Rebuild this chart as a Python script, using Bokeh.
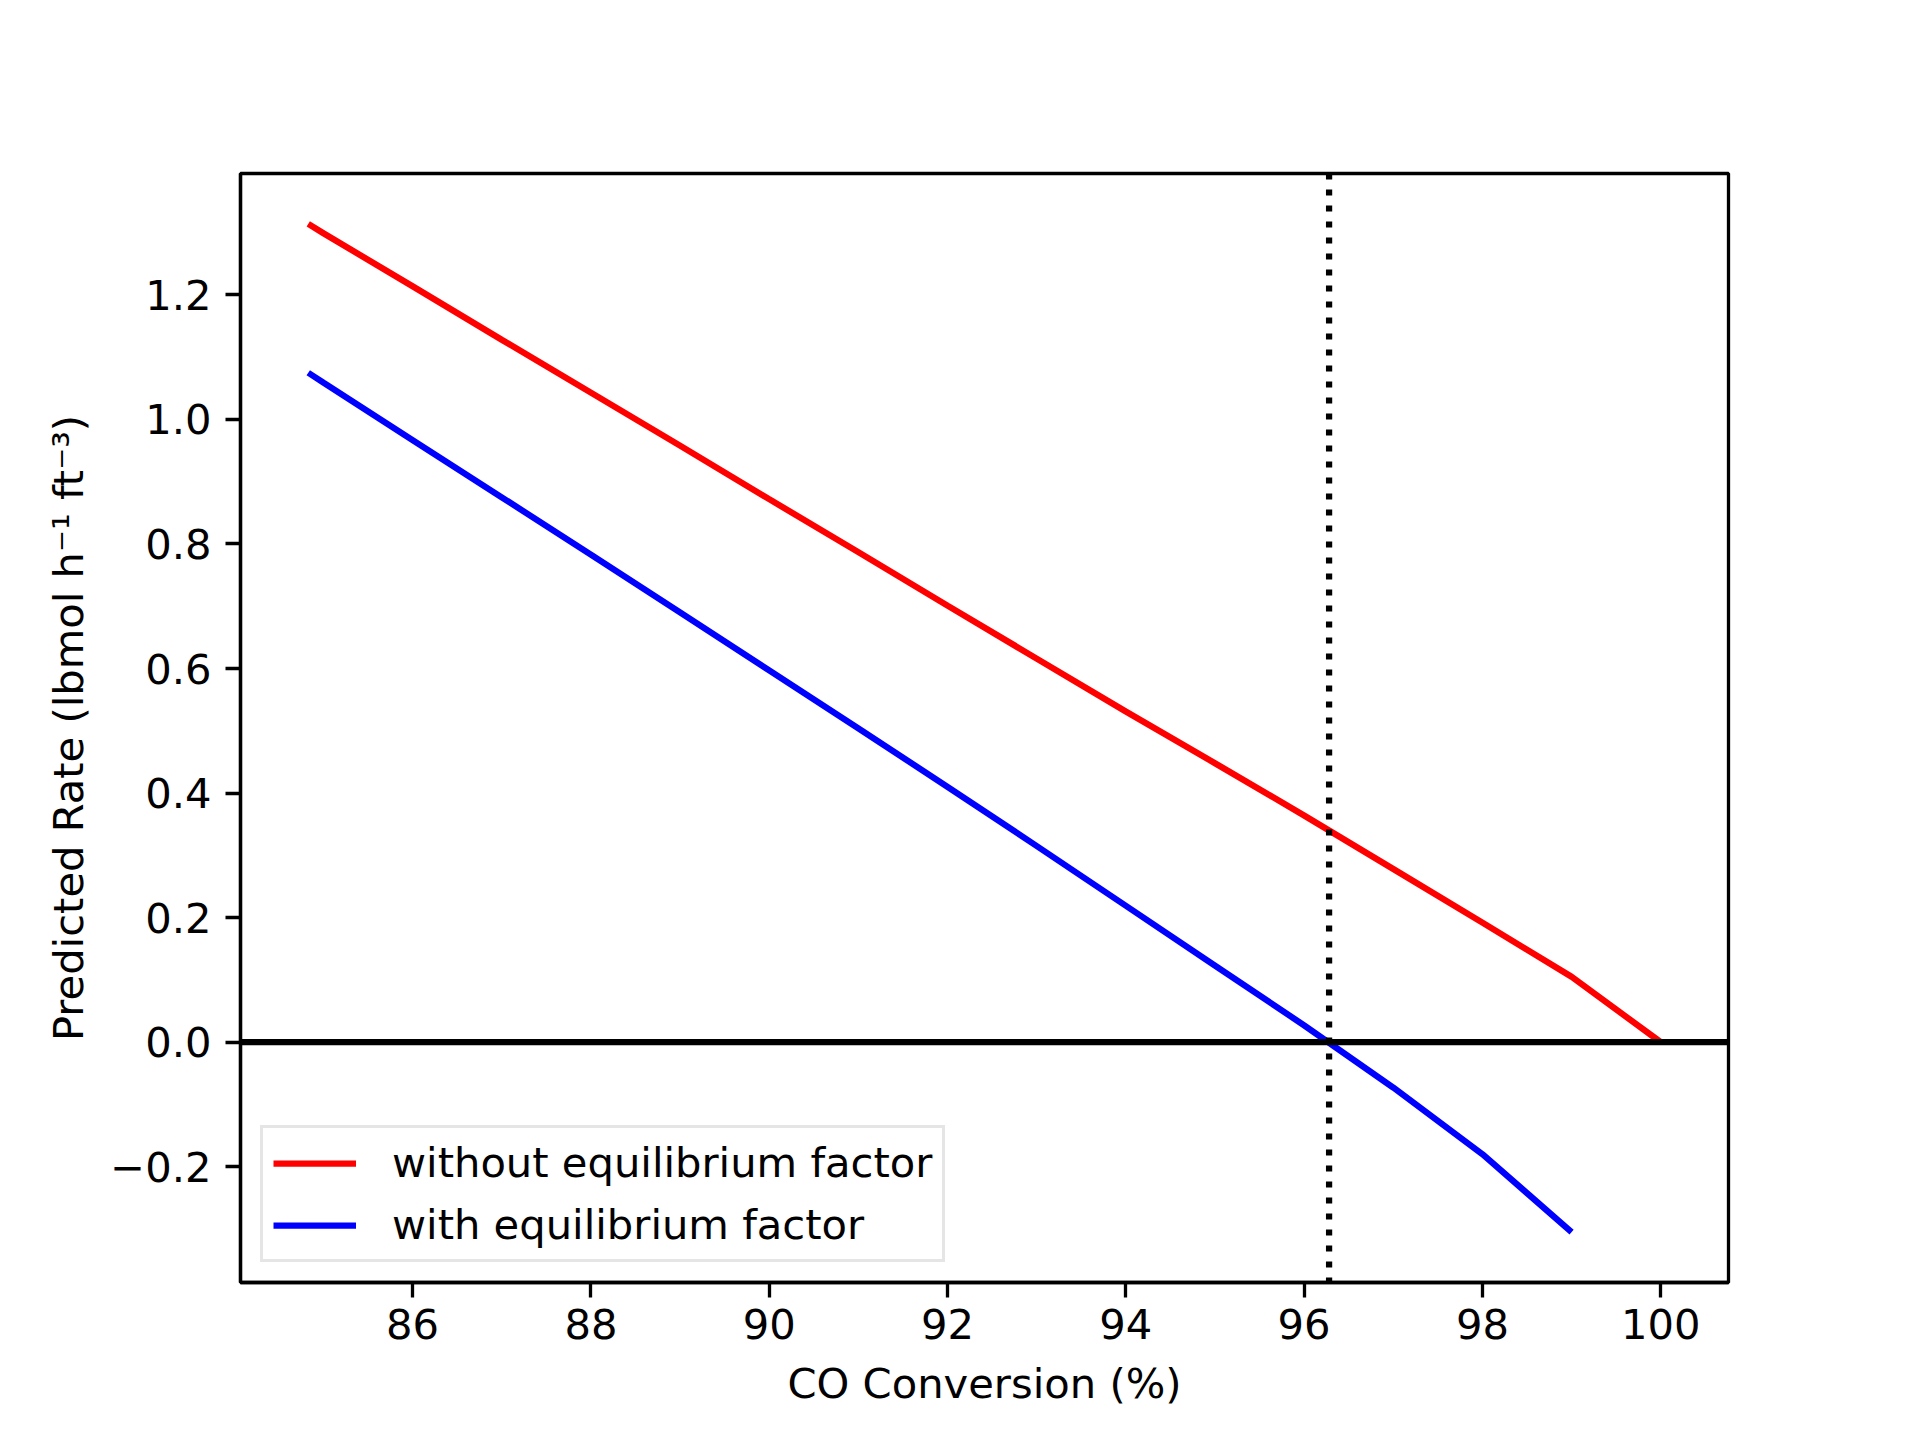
from bokeh.plotting import figure
from bokeh.models import Range1d, FixedTicker, CustomJSTickFormatter, Span, Legend, LegendItem
from bokeh.embed import file_html
from bokeh.resources import INLINE

# ---- data ----
x_without = [84.83, 85, 86, 87, 88, 89, 90, 91, 92, 93, 94, 95, 96, 97, 98, 99, 100]
rate_without = [1.314, 1.299, 1.214, 1.128, 1.043, 0.958, 0.872, 0.787, 0.701,
                0.616, 0.531, 0.448, 0.364, 0.278, 0.192, 0.105, 0.0]
x_with = [84.83, 85, 86, 87, 88, 89, 90, 91, 92, 93, 94, 95, 96, 97, 98, 99]
rate_with = [1.075, 1.059, 0.967, 0.875, 0.783, 0.690, 0.597, 0.504, 0.410,
             0.315, 0.219, 0.123, 0.027, -0.073, -0.180, -0.305]
eq_conversion = 96.28
x_ticks = [86, 88, 90, 92, 94, 96, 98, 100]
y_ticks = [-0.2, 0.0, 0.2, 0.4, 0.6, 0.8, 1.0, 1.2]
label_without = "without equilibrium factor"
label_with = "with equilibrium factor"
x_label = "CO Conversion (%)"
y_label = "Predicted Rate (lbmol h\u207b\u00b9 ft\u207b\u00b3)"

FONT = "DejaVu Sans"
FS = "41.67px"
LW = 6.25

p = figure(width=1920, height=1440, output_backend="svg", toolbar_location=None,
           x_range=Range1d(84.07, 100.76), y_range=Range1d(-0.386, 1.395),
           frame_width=1488, frame_height=1109,
           min_border_left=240, min_border_right=192, min_border_top=173, min_border_bottom=158)
p.background_fill_color = "white"
p.border_fill_color = "white"
p.outline_line_color = "black"
p.outline_line_width = 3.3
p.xgrid.visible = False
p.ygrid.visible = False

for ax in (p.xaxis[0], p.yaxis[0]):
    ax.axis_line_color = "black"
    ax.axis_line_width = 3.3
    ax.major_tick_line_color = "black"
    ax.major_tick_line_width = 3.3
    ax.major_tick_out = 15
    ax.major_tick_in = 0
    ax.minor_tick_line_color = None
    ax.major_label_text_font = FONT
    ax.major_label_text_font_size = FS
    ax.major_label_text_color = "black"
    ax.axis_label_text_font = FONT
    ax.axis_label_text_font_size = FS
    ax.axis_label_text_font_style = "normal"
    ax.axis_label_text_color = "black"

p.xaxis.ticker = FixedTicker(ticks=x_ticks)
p.yaxis.ticker = FixedTicker(ticks=y_ticks)
p.xaxis.formatter = CustomJSTickFormatter(code="return tick.toFixed(0);")
p.yaxis.formatter = CustomJSTickFormatter(
    code="return (tick < -1e-9 ? '\\u2212' : '') + Math.abs(tick).toFixed(1);")
p.xaxis.axis_label = x_label
p.yaxis.axis_label = y_label
p.xaxis.major_label_standoff = 11
p.yaxis.major_label_standoff = 14
p.xaxis.axis_label_standoff = 17
p.yaxis.axis_label_standoff = 14

r_without = p.line(x_without, rate_without, line_color="red", line_width=LW)
r_with = p.line(x_with, rate_with, line_color="blue", line_width=LW)

zero = Span(location=0.0, dimension="width", line_color="black", line_width=LW)
eq = Span(location=eq_conversion, dimension="height", line_color="black",
          line_width=LW, line_dash="6 10")
p.add_layout(zero)
p.add_layout(eq)

legend = Legend(items=[LegendItem(label=label_without, renderers=[r_without]),
                       LegendItem(label=label_with, renderers=[r_with])],
                location=(20, 20))
legend.label_text_font = FONT
legend.label_text_font_size = FS
legend.label_text_color = "black"
legend.glyph_width = 83
legend.glyph_height = 46
legend.label_height = 46
legend.label_standoff = 36
legend.padding = 10
legend.spacing = 13
legend.margin = 0
legend.border_line_color = "#cccccc"
legend.border_line_width = 3.3
legend.background_fill_color = "white"
legend.background_fill_alpha = 0.8
p.add_layout(legend, "center")

open("out.html", "w").write(file_html(p, INLINE))
